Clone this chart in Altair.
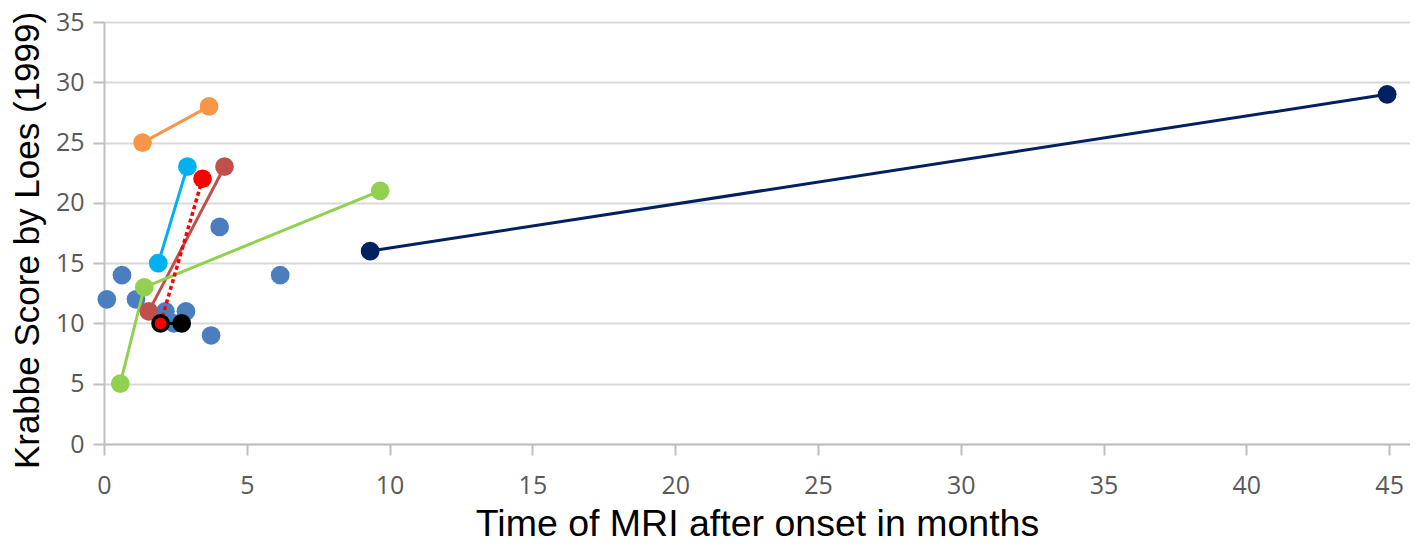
import altair as alt
import pandas as pd

# Unconnected blue points
blue_x = [0.1, 0.63, 1.12, 2.15, 2.87, 2.45, 3.75, 4.05, 6.17]
blue_y = [12, 14, 12, 11, 11, 10, 9, 18, 14]

# Connected series
orange_x = [1.35, 3.68]
orange_y = [25, 28]
cyan_x = [1.9, 2.92]
cyan_y = [15, 23]
red_x = [1.98, 3.45]
red_y = [10, 22]
brown_x = [1.57, 4.22]
brown_y = [11, 23]
green_x = [0.57, 1.41, 9.67]
green_y = [5, 13, 21]
navy_x = [9.32, 44.93]
navy_y = [16, 29]
black_x = [1.98, 2.72]
black_y = [10, 10]

x_ticks = [0, 5, 10, 15, 20, 25, 30, 35, 40, 45]
y_ticks = [0, 5, 10, 15, 20, 25, 30, 35]

series = {
    "orange": (orange_x, orange_y, "#F79646"),
    "cyan": (cyan_x, cyan_y, "#00B0F0"),
    "brown": (brown_x, brown_y, "#C0504D"),
    "green": (green_x, green_y, "#92D050"),
    "navy": (navy_x, navy_y, "#002060"),
    "black": (black_x, black_y, "#000000"),
    "red": (red_x, red_y, "#FF0000"),
}

blue_df = pd.DataFrame({"x": blue_x, "y": blue_y})
rows = []
for name, (xs, ys, _) in series.items():
    for i, (a, b) in enumerate(zip(xs, ys)):
        rows.append({"s": name, "x": a, "y": b, "o": i})
df = pd.DataFrame(rows)

names = list(series.keys())
colors = [series[n][2] for n in names]

PT = 350

xscale = alt.Scale(domain=[0, 45.73], nice=False, zero=True)
yscale = alt.Scale(domain=[0, 35], nice=False)

xaxis = alt.Axis(
    values=x_ticks, grid=False, title="Time of MRI after onset in months",
    titleFont="Liberation Sans", titleFontSize=37.5, titleFontWeight="normal",
    titleColor="#000000", titleY=91, titleBaseline="alphabetic",
    labelFont="Open Sans", labelFontSize=25, labelColor="#595959",
    labelPadding=18, tickSize=11, tickWidth=2, tickColor="#BFBFBF",
    domainColor="#BFBFBF", domainWidth=2, labelFlush=False,
)
yaxis = alt.Axis(
    values=y_ticks, grid=True, gridColor="#D9D9D9", gridWidth=2,
    title="Krabbe Score by Loes (1999)",
    titleFont="Liberation Sans", titleFontSize=35, titleFontWeight="normal",
    titleColor="#000000", titleAngle=270, titleX=-66, titleY=218,
    titleAlign="center", titleBaseline="alphabetic",
    labelFont="Open Sans", labelFontSize=25, labelColor="#595959",
    labelPadding=9, tickSize=11, tickWidth=2, tickColor="#BFBFBF",
    domainColor="#BFBFBF", domainWidth=2, labelFlush=False,
)

color = alt.Color("s:N", scale=alt.Scale(domain=names, range=colors), legend=None)

blue = alt.Chart(blue_df).mark_circle(size=PT, opacity=1, color="#4A7EBF").encode(
    x=alt.X("x:Q", scale=xscale, axis=xaxis),
    y=alt.Y("y:Q", scale=yscale, axis=yaxis),
)

solid = df[df.s != "red"]
lines = alt.Chart(solid).mark_line(strokeWidth=3).encode(
    x="x:Q", y="y:Q", color=color, detail="s:N", order="o:Q"
)
red_line = alt.Chart(df[df.s == "red"]).mark_line(
    strokeWidth=3.5, strokeDash=[4, 3], color="#FF0000"
).encode(x="x:Q", y="y:Q", order="o:Q")

pts = alt.Chart(df[df.s != "red"]).mark_circle(size=PT, opacity=1).encode(
    x="x:Q", y="y:Q", color=color
)
red_pts = alt.Chart(df[df.s == "red"]).mark_circle(opacity=1, color="#FF0000").encode(
    x="x:Q", y="y:Q",
    size=alt.condition(alt.datum.y == 10, alt.value(140), alt.value(PT)),
)

chart = alt.layer(blue, lines, red_line, pts, red_pts).properties(
    width=1306, height=422,
    autosize=alt.AutoSizeParams(type="none"),
    padding={"left": 96, "top": 14, "right": 0, "bottom": 100},
).configure_view(stroke=None).configure(background="white")

chart.save("out.html", embed_options={"renderer": "svg", "actions": False})
